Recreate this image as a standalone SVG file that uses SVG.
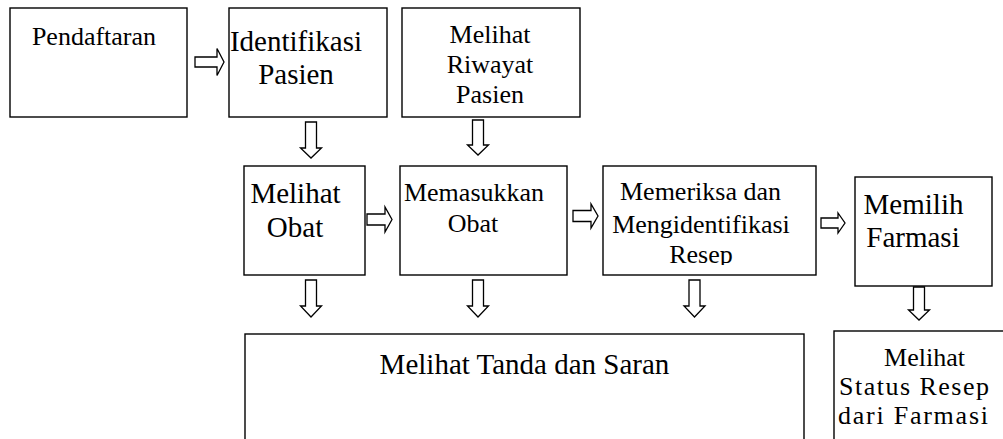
<svg xmlns="http://www.w3.org/2000/svg" width="1003" height="439" viewBox="0 0 1003 439">
<style>
.box{fill:#fff;stroke:#000;stroke-width:1.4}
.arr{fill:#fff;stroke:#000;stroke-width:1.3;stroke-linejoin:miter}
.t{font-family:'Liberation Serif','DejaVu Serif',serif;fill:#000;text-anchor:middle}
.s{font-size:26px}
.l{font-size:29px}
</style>
<defs>
<clipPath id="clipResep"><rect x="603" y="166" width="213" height="99"/></clipPath>
</defs>
<rect width="1003" height="439" fill="#fff"/>
<g id="n-pendaftaran">
<rect class="box" x="10" y="8" width="177" height="109"/>
<text class="t s" x="94" y="45">Pendaftaran</text>
</g>
<g id="n-identifikasi">
<rect class="box" x="229" y="8" width="158" height="109"/>
<text class="t l" x="296" y="51">Identifikasi</text>
<text class="t l" x="296" y="84">Pasien</text>
</g>
<g id="n-riwayat">
<rect class="box" x="402" y="8" width="178" height="109"/>
<text class="t s" x="490" y="43">Melihat</text>
<text class="t s" x="490" y="73">Riwayat</text>
<text class="t s" x="490" y="103">Pasien</text>
</g>
<g id="n-melihat-obat">
<rect class="box" x="244" y="166" width="121" height="109"/>
<text class="t l" x="295.5" y="203">Melihat</text>
<text class="t l" x="295" y="237">Obat</text>
</g>
<g id="n-memasukkan">
<rect class="box" x="400" y="166" width="167" height="109"/>
<text class="t s" x="474" y="201">Memasukkan</text>
<text class="t s" x="473" y="232">Obat</text>
</g>
<g id="n-memeriksa">
<rect class="box" x="603" y="166" width="213" height="109"/>
<g clip-path="url(#clipResep)">
<text class="t s" x="700.5" y="200">Memeriksa dan</text>
<text class="t s" x="701" y="233">Mengidentifikasi</text>
<text class="t s" x="701" y="263">Resep</text>
</g>
</g>
<g id="n-memilih">
<rect class="box" x="855" y="177" width="137" height="109"/>
<text class="t l" x="913.5" y="214">Memilih</text>
<text class="t l" x="913" y="247">Farmasi</text>
</g>
<g id="n-tanda">
<rect class="box" x="245" y="334" width="559" height="120"/>
<text class="t l" x="524.5" y="374">Melihat Tanda dan Saran</text>
</g>
<g id="n-status">
<rect class="box" x="834" y="331" width="175" height="120"/>
<text class="t s" x="924.5" y="366">Melihat</text>
<text class="t s" x="914" y="395" textLength="150" lengthAdjust="spacing">Status Resep</text>
<text class="t s" x="913" y="424" textLength="150" lengthAdjust="spacing">dari Farmasi</text>
</g>
<g id="connectors">
<path class="arr" d="M195,57 H217 V48.5 L224,62 L217,75.5 V67 H195 Z"/>
<path class="arr" d="M367,214 H385 V207 L392,219.5 L385,232 V225 H367 Z"/>
<path class="arr" d="M573,210.5 H591 V204 L598,216 L591,228 V221.5 H573 Z"/>
<path class="arr" d="M821,218 H838 V213 L845,223 L838,233 V228 H821 Z"/>
<path class="arr" d="M305.5,122 H316.5 V148 H321.5 L311,158 L300.5,148 H305.5 Z"/>
<path class="arr" d="M472.5,120 H483.5 V145 H488.5 L478,155 L467.5,145 H472.5 Z"/>
<path class="arr" d="M305.5,280 H316.5 V306 H321.5 L311,317 L300.5,306 H305.5 Z"/>
<path class="arr" d="M472.5,280 H483.5 V306 H488.5 L478,317 L467.5,306 H472.5 Z"/>
<path class="arr" d="M689,280 H700 V306 H705 L694.5,317 L684,306 H689 Z"/>
<path class="arr" d="M913.5,287 H924.5 V310 H929.5 L919,320 L908.5,310 H913.5 Z"/>
</g>
</svg>
